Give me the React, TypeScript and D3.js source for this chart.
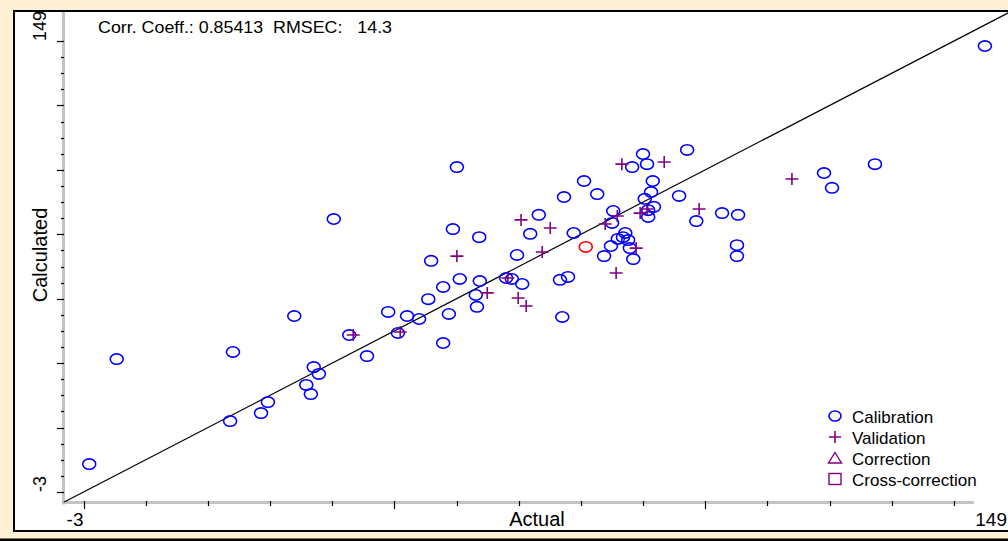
import { useEffect, useRef } from 'react'
import * as d3 from 'd3'

// [actual, calculated]
const calibration: [number, number][] = [
  [-2.0, 6.4], [2.8, 41.8], [22.6, 20.9], [23.1, 44.2], [28.0, 23.6], [29.2, 27.3],
  [33.8, 56.3], [35.9, 33.1], [36.7, 30.0], [37.2, 39.1], [38.1, 36.8], [40.7, 89.0],
  [43.4, 49.9], [46.5, 42.8], [50.2, 57.7], [51.9, 50.6], [53.5, 56.3], [55.6, 55.3],
  [57.2, 62.0], [57.7, 74.9], [59.8, 66.1], [59.8, 47.2], [60.8, 57.0], [61.5, 85.6],
  [62.2, 106.5], [62.7, 68.8], [65.5, 63.4], [65.7, 59.4], [66.1, 82.9], [66.2, 68.1],
  [70.8, 69.1], [71.8, 68.8], [72.7, 76.9], [73.6, 67.1], [75.0, 84.0], [76.5, 90.4],
  [80.2, 68.5], [81.6, 69.5], [80.6, 56.0], [80.9, 96.4], [82.6, 84.3], [84.4, 101.8],
  [86.7, 97.4], [87.9, 76.5], [89.1, 79.9], [89.3, 87.7], [89.5, 91.7], [90.3, 82.3],
  [91.2, 82.9], [91.6, 84.3], [92.1, 81.9], [92.4, 79.2], [93.0, 75.5], [92.8, 106.5],
  [94.7, 110.9], [95.4, 107.5], [96.4, 101.8], [96.1, 98.1], [95.0, 95.8], [96.6, 93.1],
  [95.6, 92.0], [95.6, 89.7], [101.0, 96.8], [102.4, 112.3], [104.0, 88.3], [108.5, 91.0],
  [111.3, 90.4], [111.1, 80.2], [111.1, 76.5], [126.3, 104.5], [127.7, 99.5], [135.2, 107.5],
  [154.4, 147.3],
]

const selected: [number, number][] = [[84.7, 79.6]]

const validation: [number, number][] = [
  [44.1, 49.9], [52.3, 50.9], [62.2, 76.5], [67.5, 64.1], [71.1, 69.1], [72.9, 62.4],
  [73.4, 88.7], [74.3, 59.7], [77.1, 77.9], [78.5, 86.0], [88.1, 87.3], [90.2, 90.0],
  [90.0, 70.8], [91.0, 107.5], [93.5, 79.2], [94.2, 91.0], [95.4, 92.4], [98.4, 108.2],
  [104.5, 92.4], [120.7, 102.5],
]

const legendItems = ['Calibration', 'Validation', 'Correction', 'Cross-correction']
const axisMin = -3
const axisMax = 149
const statsText = 'Corr. Coeff.: 0.85413  RMSEC:   14.3'

const W = 1008
const H = 541
const font = '"Liberation Sans", Arial, sans-serif'
const blue = '#0000ff'
const purple = '#800080'

export default function App() {
  const ref = useRef<SVGSVGElement>(null)

  useEffect(() => {
    const svg = d3.select(ref.current)
    svg.selectAll('*').remove()
    svg.attr('width', W).attr('height', H).attr('viewBox', `0 0 ${W} ${H}`)

    // window frame
    svg.append('rect').attr('width', W).attr('height', H).attr('fill', '#fdf0d4')
    svg.append('rect')
      .attr('x', 14).attr('y', 11).attr('width', W + 20).attr('height', 520)
      .attr('fill', '#fff').attr('stroke', '#000').attr('stroke-width', 2)
    svg.append('rect').attr('x', 0).attr('y', 538.5).attr('width', W).attr('height', 3).attr('fill', '#000')

    const x = d3.scaleLinear().domain([axisMin, axisMax]).range([83.5, 954])
    const y = d3.scaleLinear().domain([axisMin, axisMax]).range([492, 41])

    const left = 63.5
    const bottom = 502.5

    svg.append('clipPath').attr('id', 'plot-clip')
      .append('rect').attr('x', left).attr('y', 12).attr('width', W - left).attr('height', bottom - 12)

    // axes (grey bars)
    svg.append('line')
      .attr('x1', left).attr('x2', left).attr('y1', 12).attr('y2', bottom + 2)
      .attr('stroke', '#c4c4c4').attr('stroke-width', 3)
    svg.append('line')
      .attr('x1', left - 1.5).attr('x2', x(152.5)).attr('y1', bottom).attr('y2', bottom)
      .attr('stroke', '#c4c4c4').attr('stroke-width', 3)

    const span = axisMax - axisMin
    const yTicks = d3.range(29).map((i) => ({ v: axisMin + (i * span) / 28, major: i % 4 === 0 }))
    const xTicks = d3.range(15).map((i) => ({ v: axisMin + (i * span) / 14, major: i % 5 === 0 }))

    svg.append('g').selectAll('line').data(yTicks).join('line')
      .attr('x1', (d) => (d.major ? 57 : 61)).attr('x2', 64)
      .attr('y1', (d) => Math.round(y(d.v)) + 0.5).attr('y2', (d) => Math.round(y(d.v)) + 0.5)
      .attr('stroke', '#000').attr('stroke-width', 1.2)

    svg.append('g').selectAll('line').data(xTicks).join('line')
      .attr('x1', (d) => Math.round(x(d.v)) + 0.5).attr('x2', (d) => Math.round(x(d.v)) + 0.5)
      .attr('y1', 501).attr('y2', (d) => (d.major ? 509 : 506))
      .attr('stroke', '#000').attr('stroke-width', 1.2)

    // tick labels
    const yLab = svg.append('g').attr('font-family', font).attr('font-size', 18).attr('fill', '#000')
    ;[axisMin, axisMax].forEach((v) => {
      yLab.append('text')
        .attr('transform', `translate(46,${y(v)}) rotate(-90)`)
        .attr('text-anchor', 'start')
        .text(String(v))
    })
    const xLab = svg.append('g').attr('font-family', font).attr('font-size', 19).attr('fill', '#000')
    xLab.append('text').attr('x', x(axisMin)).attr('y', 526).attr('text-anchor', 'end').text(String(axisMin))
    xLab.append('text').attr('x', x(axisMax) + 53).attr('y', 526).attr('text-anchor', 'end').text(String(axisMax))

    // axis titles
    svg.append('text')
      .attr('x', 537).attr('y', 526).attr('text-anchor', 'middle')
      .attr('font-family', font).attr('font-size', 20).text('Actual')
    svg.append('text')
      .attr('transform', 'translate(47,255) rotate(-90)').attr('text-anchor', 'middle')
      .attr('font-family', font).attr('font-size', 20).text('Calculated')

    // stats
    svg.append('text')
      .attr('x', 98).attr('y', 33)
      .attr('font-family', font).attr('font-size', 17)
      .attr('textLength', 294).attr('lengthAdjust', 'spacingAndGlyphs')
      .style('white-space', 'pre')
      .text(statsText)

    // identity line
    const line = d3.line<[number, number]>().x((d) => x(d[0])).y((d) => y(d[1]))
    svg.append('path')
      .attr('clip-path', 'url(#plot-clip)')
      .attr('d', line([[-10, -10], [170, 170]]))
      .attr('fill', 'none').attr('stroke', '#000').attr('stroke-width', 1.2)

    const pts = svg.append('g').attr('clip-path', 'url(#plot-clip)')
    pts.selectAll('ellipse.cal').data(calibration).join('ellipse')
      .attr('class', 'cal')
      .attr('cx', (d) => x(d[0])).attr('cy', (d) => y(d[1]))
      .attr('rx', 6.5).attr('ry', 5.2)
      .attr('fill', 'none').attr('stroke', blue).attr('stroke-width', 1.6)
    pts.selectAll('ellipse.sel').data(selected).join('ellipse')
      .attr('class', 'sel')
      .attr('cx', (d) => x(d[0])).attr('cy', (d) => y(d[1]))
      .attr('rx', 6.5).attr('ry', 5.2)
      .attr('fill', 'none').attr('stroke', '#ff0000').attr('stroke-width', 1.6)
    pts.selectAll('path.val').data(validation).join('path')
      .attr('class', 'val')
      .attr('transform', (d) => `translate(${x(d[0])},${y(d[1])})`)
      .attr('d', 'M-6.5,0H6.5M0,-6V6')
      .attr('stroke', purple).attr('stroke-width', 1.6).attr('fill', 'none')

    // legend
    const lg = svg.append('g').attr('font-family', font).attr('font-size', 17)
    const markers = [
      (g: any) => g.append('ellipse').attr('rx', 6).attr('ry', 5).attr('fill', 'none').attr('stroke', blue).attr('stroke-width', 1.6),
      (g: any) => g.append('path').attr('d', 'M-6,0H6M0,-6V6').attr('stroke', purple).attr('stroke-width', 1.6),
      (g: any) => g.append('path').attr('d', 'M0,-5.5L6.5,5L-6.5,5Z').attr('fill', 'none').attr('stroke', purple).attr('stroke-width', 1.4),
      (g: any) => g.append('rect').attr('x', -6).attr('y', -5.5).attr('width', 12).attr('height', 11).attr('fill', 'none').attr('stroke', purple).attr('stroke-width', 1.4),
    ]
    legendItems.forEach((name, i) => {
      const row = lg.append('g').attr('transform', `translate(0,${416 + i * 21})`)
      markers[i](row.append('g').attr('transform', 'translate(835,0)'))
      row.append('text').attr('x', 852).attr('y', 7).attr('fill', '#000').text(name)
    })
  }, [])

  return <svg ref={ref} style={{ position: 'absolute', left: 0, top: 0, display: 'block' }} />
}
